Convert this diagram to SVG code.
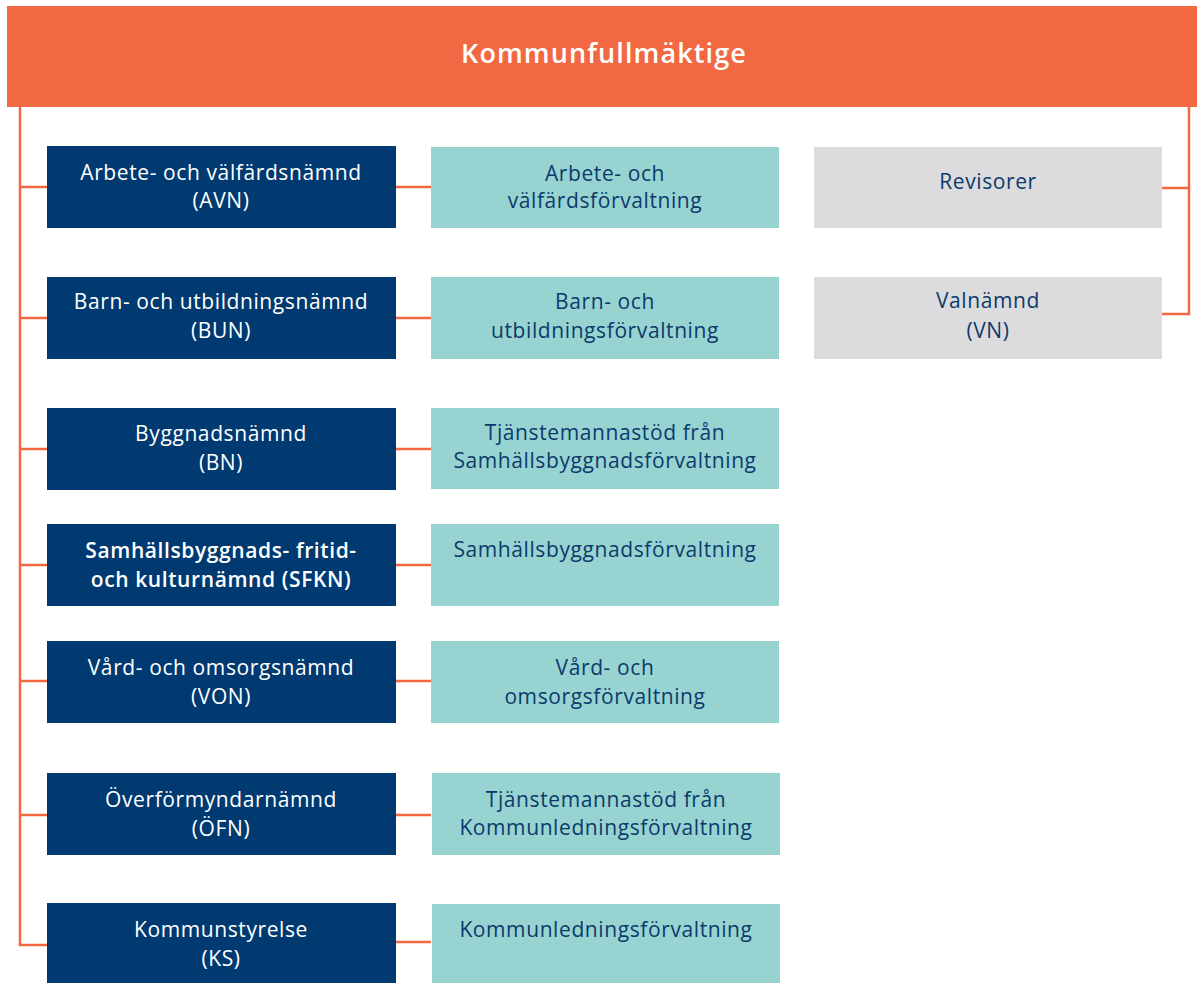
<svg xmlns="http://www.w3.org/2000/svg" width="1197" height="983" viewBox="0 0 1197 983">
<style>
.hdr{fill:#F26842}
.dk{fill:#003A70}
.tl{fill:#97D4D1}
.gr{fill:#DCDCDE}
text{font-family:"Open Sans","DejaVu Sans",sans-serif;font-size:21px;letter-spacing:0.6px;text-anchor:middle}
.wt{fill:#FFFFFF}
.bt{fill:#0C3A6B}
.b{font-weight:600}
.h{font-size:27px;font-weight:600;fill:#FFFFFF;letter-spacing:1.1px}
.ln{fill:none;stroke:#F26842;stroke-width:2.5}
</style>
<rect width="1197" height="983" fill="#FFFFFF"/>
<g id="connectors">
<path class="ln" d="M20,107 V945 H47"/>
<path class="ln" d="M20,187 H47 M20,318 H47 M20,449 H47 M20,565 H47 M20,681 H47 M20,815 H47"/>
<path class="ln" d="M396,187 H431 M396,318 H431 M396,449 H431 M396,565 H431 M396,681 H431 M396,815 H431 M396,942 H431"/>
<path class="ln" d="M1189,107 V314 H1162 M1189,188 H1162"/>
</g>
<g id="kf"><rect class="hdr" x="7" y="6" width="1190" height="101"/><text class="h" x="604" y="63">Kommunfullmäktige</text></g>
<g id="avn"><rect class="dk" x="47" y="146" width="349" height="82"/><text class="wt" x="221" y="180">Arbete- och välfärdsnämnd</text><text class="wt" x="221" y="208">(AVN)</text></g>
<g id="avf"><rect class="tl" x="431" y="147" width="348" height="81"/><text class="bt" x="605" y="181">Arbete- och</text><text class="bt" x="605" y="208">välfärdsförvaltning</text></g>
<g id="rev"><rect class="gr" x="814" y="147" width="348" height="81"/><text class="bt" x="988" y="189">Revisorer</text></g>
<g id="bun"><rect class="dk" x="47" y="277" width="349" height="82"/><text class="wt" x="221" y="309">Barn- och utbildningsnämnd</text><text class="wt" x="221" y="338">(BUN)</text></g>
<g id="buf"><rect class="tl" x="431" y="277" width="348" height="82"/><text class="bt" x="605" y="309">Barn- och</text><text class="bt" x="605" y="338">utbildningsförvaltning</text></g>
<g id="vn"><rect class="gr" x="814" y="277" width="348" height="82"/><text class="bt" x="988" y="308">Valnämnd</text><text class="bt" x="988" y="338">(VN)</text></g>
<g id="bn"><rect class="dk" x="47" y="408" width="349" height="82"/><text class="wt" x="221" y="441">Byggnadsnämnd</text><text class="wt" x="221" y="470">(BN)</text></g>
<g id="bnf"><rect class="tl" x="431" y="408" width="348" height="81"/><text class="bt" x="605" y="440">Tjänstemannastöd från</text><text class="bt" x="605" y="468">Samhällsbyggnadsförvaltning</text></g>
<g id="sfkn"><rect class="dk" x="47" y="524" width="349" height="82"/><text class="wt b" x="221" y="558">Samhällsbyggnads- fritid-</text><text class="wt b" x="221" y="587">och kulturnämnd (SFKN)</text></g>
<g id="sbf"><rect class="tl" x="431" y="524" width="348" height="82"/><text class="bt" x="605" y="557">Samhällsbyggnadsförvaltning</text></g>
<g id="von"><rect class="dk" x="47" y="641" width="349" height="82"/><text class="wt" x="221" y="675">Vård- och omsorgsnämnd</text><text class="wt" x="221" y="704">(VON)</text></g>
<g id="vof"><rect class="tl" x="431" y="641" width="348" height="82"/><text class="bt" x="605" y="675">Vård- och</text><text class="bt" x="605" y="704">omsorgsförvaltning</text></g>
<g id="ofn"><rect class="dk" x="47" y="773" width="349" height="82"/><text class="wt" x="221" y="807">Överförmyndarnämnd</text><text class="wt" x="221" y="836">(ÖFN)</text></g>
<g id="ofnf"><rect class="tl" x="432" y="773" width="348" height="82"/><text class="bt" x="606" y="807">Tjänstemannastöd från</text><text class="bt" x="606" y="835">Kommunledningsförvaltning</text></g>
<g id="ks"><rect class="dk" x="47" y="903" width="349" height="82"/><text class="wt" x="221" y="937">Kommunstyrelse</text><text class="wt" x="221" y="966">(KS)</text></g>
<g id="klf"><rect class="tl" x="432" y="904" width="348" height="81"/><text class="bt" x="606" y="937">Kommunledningsförvaltning</text></g>
</svg>
